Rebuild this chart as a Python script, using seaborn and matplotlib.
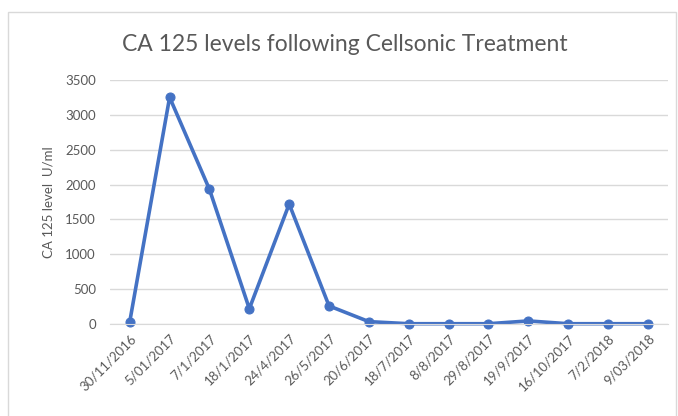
import pandas as pd
import matplotlib.pyplot as plt
import seaborn as sns
from matplotlib.patches import Rectangle

# Data
dates = ["30/11/2016", "5/01/2017", "7/1/2017", "18/1/2017", "24/4/2017",
         "26/5/2017", "20/6/2017", "18/7/2017", "8/8/2017", "29/8/2017",
         "19/9/2017", "16/10/2017", "7/2/2018", "9/03/2018"]
ca125 = [35, 3250, 1930, 220, 1720, 260, 35, 5, 5, 5, 45, 5, 5, 5]

df = pd.DataFrame({"date": dates, "ca125": ca125})
df["pos"] = range(len(df))

sns.set_style("white")
plt.rcParams["font.family"] = ["Lato", "DejaVu Sans"]
text_col = "#595959"

fig = plt.figure(figsize=(6.78, 4.16), dpi=100)
ax = fig.add_axes([0.162, 0.221, 0.823, 0.587])

sns.lineplot(data=df, x="pos", y="ca125", ax=ax, color="#4472C4",
             linewidth=2.6, marker="o", markersize=6.5,
             markeredgecolor="#4472C4", sort=False, clip_on=False)

ax.set_xlim(-0.5, len(dates) - 0.5)
ax.set_ylim(0, 3500)
ax.set_yticks(range(0, 3501, 500))
ax.set_xticks(df["pos"])
ax.set_xticklabels(dates, rotation=45, ha="right", rotation_mode="anchor",
                   fontsize=9.5, color=text_col)
ax.tick_params(axis="y", labelsize=9.5, labelcolor=text_col, length=0, pad=10)
ax.tick_params(axis="x", length=0, pad=6)
ax.grid(axis="y", color="#d9d9d9", linewidth=1)
ax.set_axisbelow(True)
for s in ["top", "right", "left"]:
    ax.spines[s].set_visible(False)
ax.spines["bottom"].set_color("#d9d9d9")

ax.set_xlabel("")
ax.set_ylabel("CA 125 level  U/ml", fontsize=9.5, color=text_col, labelpad=8)
fig.text(0.509, 0.893, "CA 125 levels following Cellsonic Treatment",
         ha="center", va="center", fontsize=16.5, color=text_col)

# light chart border
fig.patches.append(Rectangle((0.012, -0.05), 0.985, 1.02, transform=fig.transFigure,
                             fill=False, edgecolor="#d9d9d9", linewidth=1))

fig.savefig("out.png", dpi=100)
